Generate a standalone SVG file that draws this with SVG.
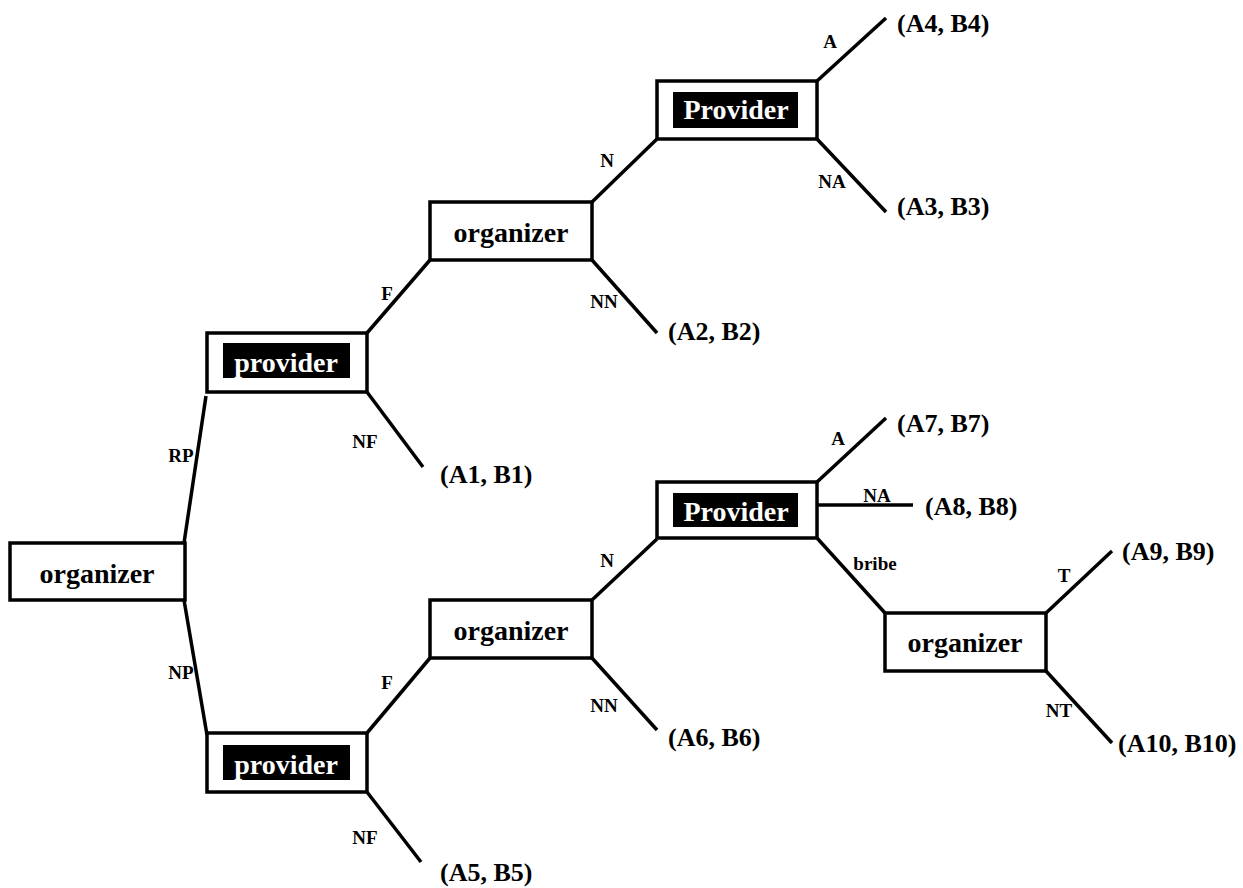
<svg xmlns="http://www.w3.org/2000/svg" width="1243" height="888" viewBox="0 0 1243 888">
<style>
text{font-family:"Liberation Serif","Times New Roman",serif;font-weight:bold}
.box{fill:#fff;stroke:#000;stroke-width:3.5}
.lbl{fill:#000}
.nt{font-size:28px;text-anchor:middle}
.w{fill:#fff}
.k{fill:#000}
.e{font-size:19px;text-anchor:middle;fill:#000}
.leaf{font-size:26px;fill:#000}
.c line{stroke:#000;stroke-width:3.5;stroke-linecap:butt}
</style>
<rect width="1243" height="888" fill="#fff"/>
<g class="c" id="connectors">
<line x1="184" y1="543" x2="206" y2="396"/>
<line x1="184" y1="600" x2="207" y2="735"/>
<line x1="367" y1="333" x2="430" y2="260"/>
<line x1="367" y1="392" x2="423" y2="467"/>
<line x1="592" y1="202" x2="657" y2="139"/>
<line x1="592" y1="260" x2="657" y2="333"/>
<line x1="817" y1="81" x2="886" y2="18"/>
<line x1="817" y1="139" x2="886" y2="212"/>
<line x1="367" y1="733" x2="430" y2="658"/>
<line x1="367" y1="792" x2="421" y2="862"/>
<line x1="592" y1="600" x2="657" y2="539"/>
<line x1="592" y1="658" x2="657" y2="730"/>
<line x1="817" y1="482" x2="886" y2="418"/>
<line x1="813" y1="505" x2="913" y2="505"/>
<line x1="817" y1="538" x2="885" y2="613"/>
<line x1="1046" y1="613" x2="1112" y2="551"/>
<line x1="1046" y1="671" x2="1112" y2="743"/>
</g>
<g id="edge-labels">
<text class="e" x="181" y="462">RP</text>
<text class="e" x="181" y="679">NP</text>
<text class="e" x="387" y="300">F</text>
<text class="e" x="387" y="689">F</text>
<text class="e" x="365" y="448">NF</text>
<text class="e" x="365" y="844">NF</text>
<text class="e" x="607" y="167">N</text>
<text class="e" x="607" y="567">N</text>
<text class="e" x="604" y="308">NN</text>
<text class="e" x="604" y="712">NN</text>
<text class="e" x="830" y="48">A</text>
<text class="e" x="832" y="188">NA</text>
<text class="e" x="838" y="445">A</text>
<text class="e" x="877" y="502">NA</text>
<text class="e" x="875" y="570">bribe</text>
<text class="e" x="1064" y="582">T</text>
<text class="e" x="1059" y="717">NT</text>
</g>
<g id="n-organizer-root">
<rect class="box" x="10" y="543" width="175" height="57"/>
<text class="nt k" x="97" y="583">organizer</text>
</g>
<g id="n-provider-upper">
<rect class="box" x="207" y="333" width="160" height="59"/>
<rect class="lbl" x="223" y="343" width="127" height="35"/>
<text class="nt w" x="286" y="372">provider</text>
</g>
<g id="n-provider-lower">
<rect class="box" x="207" y="733" width="160" height="59"/>
<rect class="lbl" x="223" y="745" width="127" height="35"/>
<text class="nt w" x="286" y="774">provider</text>
</g>
<g id="n-organizer-upper">
<rect class="box" x="430" y="202" width="162" height="58"/>
<text class="nt k" x="511" y="242">organizer</text>
</g>
<g id="n-organizer-lower">
<rect class="box" x="430" y="600" width="162" height="58"/>
<text class="nt k" x="511" y="640">organizer</text>
</g>
<g id="n-Provider-upper">
<rect class="box" x="657" y="81" width="160" height="58"/>
<rect class="lbl" x="673" y="92" width="125" height="36"/>
<text class="nt w" x="736" y="119">Provider</text>
</g>
<g id="n-Provider-lower">
<rect class="box" x="657" y="482" width="160" height="56"/>
<rect class="lbl" x="673" y="493" width="125" height="34"/>
<text class="nt w" x="736" y="521">Provider</text>
</g>
<g id="n-organizer-right">
<rect class="box" x="885" y="613" width="161" height="58"/>
<text class="nt k" x="965" y="652">organizer</text>
</g>
<g id="leaves">
<text class="leaf" x="897" y="32">(A4, B4)</text>
<text class="leaf" x="897" y="215">(A3, B3)</text>
<text class="leaf" x="668" y="340">(A2, B2)</text>
<text class="leaf" x="440" y="483">(A1, B1)</text>
<text class="leaf" x="897" y="432">(A7, B7)</text>
<text class="leaf" x="925" y="515">(A8, B8)</text>
<text class="leaf" x="1122" y="560">(A9, B9)</text>
<text class="leaf" x="1118" y="752">(A10, B10)</text>
<text class="leaf" x="668" y="746">(A6, B6)</text>
<text class="leaf" x="440" y="881">(A5, B5)</text>
</g>
</svg>
